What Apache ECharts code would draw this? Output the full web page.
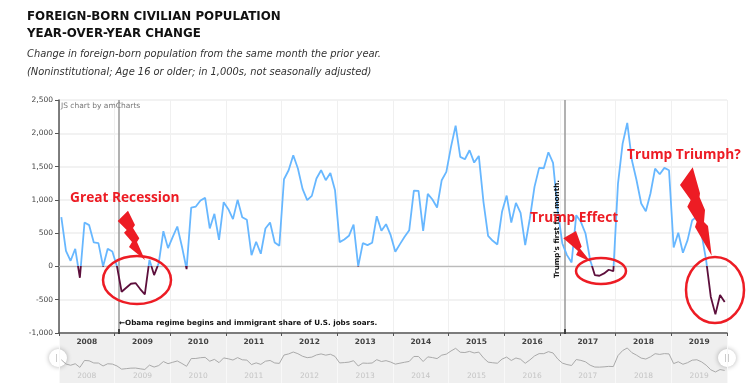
<!DOCTYPE html>
<html><head><meta charset="utf-8">
<style>html,body{margin:0;padding:0;background:#fff}#c{width:750px;height:392px}</style>
<script src="https://cdn.jsdelivr.net/npm/echarts@6/dist/echarts.min.js"></script>
</head><body><div id="c"></div>
<script>
const years = ['2008','2009','2010','2011','2012','2013','2014','2015','2016','2017','2018','2019'];
const y2008 = [740,235,85,265,-170,660,620,360,350,0,265,225];
const y2009 = [0,-380,-320,-260,-250,-340,-420,100,-130,50,530,275];
const y2010 = [440,600,300,-40,885,900,990,1030,570,790,400,965];
const y2011 = [860,710,1000,740,700,170,370,190,570,660,360,310];
const y2012 = [1310,1445,1670,1470,1165,995,1060,1320,1445,1295,1405,1145];
const y2013 = [365,405,460,630,0,350,320,355,755,535,635,470];
const y2014 = [220,335,445,545,1140,1135,535,1090,1005,885,1295,1420];
const y2015 = [1795,2115,1645,1610,1745,1560,1660,970,460,385,330,820];
const y2016 = [1065,660,955,805,320,720,1195,1480,1475,1715,1555,845];
const y2017 = [345,170,60,770,670,495,95,-130,-140,-105,-50,-70];
const y2018 = [1245,1845,2155,1595,1295,945,830,1095,1470,1385,1480,1445];
const y2019 = [285,505,205,395,695,745,495,95,-455,-720,-430,-535];
const values = [].concat(y2008,y2009,y2010,y2011,y2012,y2013,y2014,y2015,y2016,y2017,y2018,y2019);
const points = values.map((v,i)=>[i+0.5,v]);
const obamaMonth = 12.9, trumpMonth = 109.05;

const RED = '#ed1c24', FONT = '"DejaVu Sans",sans-serif';
const bolt = pts => ({type:'polygon',z:30,shape:{points:pts},style:{fill:RED}});
const ring = (cx,cy,rx,ry) => ({type:'ellipse',z:30,shape:{cx,cy,rx,ry},style:{fill:'none',stroke:RED,lineWidth:2.5}});
const redText = (x,y,text) => ({type:'text',z:31,x,y,style:{text,fill:RED,font:'bold 13.7px "Open Sans",sans-serif',textVerticalAlign:'middle'}});
const plain = (x,y,text,font,fill) => ({type:'text',z:20,x,y,style:{text,font,fill:fill||'#111',textVerticalAlign:'middle'}});
const handle = cx => ({type:'group',z:40,children:[
  {type:'circle',shape:{cx,cy:358,r:9},style:{fill:'#fff',shadowBlur:5,shadowColor:'rgba(0,0,0,.3)'}},
  {type:'line',shape:{x1:cx-1.5,y1:354,x2:cx-1.5,y2:362},style:{stroke:'#ccc',lineWidth:1}},
  {type:'line',shape:{x1:cx+1.5,y1:354,x2:cx+1.5,y2:362},style:{stroke:'#ccc',lineWidth:1}}]});

const chart = echarts.init(document.getElementById('c'),null,{renderer:'canvas'});
chart.setOption({
  animation:false,
  backgroundColor:'#fff',
  grid:[
    {left:59,right:23,top:100,height:233,containLabel:false},
    {left:59,right:23,top:334,height:49,show:true,backgroundColor:'#efefef',borderWidth:0}
  ],
  xAxis:[
    {type:'value',gridIndex:0,min:0,max:144,interval:12,show:false},
    {type:'category',gridIndex:0,data:years,position:'bottom',boundaryGap:true,
      axisLine:{onZero:false,lineStyle:{color:'#555',width:1.5}},
      axisTick:{show:true,length:3,lineStyle:{color:'#555'}},
      axisLabel:{show:true,fontFamily:FONT,fontSize:7.5,fontWeight:'bold',color:'#444',margin:5},
      splitLine:{show:true,lineStyle:{color:'#f0f0f0',width:1}}},
    {type:'value',gridIndex:1,min:0,max:144,interval:12,show:false},
    {type:'category',gridIndex:1,data:years,position:'bottom',boundaryGap:true,
      axisLine:{show:false},axisTick:{show:false},
      axisLabel:{show:true,inside:true,fontFamily:FONT,fontSize:7.5,color:'#c4c4c4',margin:3},
      splitLine:{show:true,lineStyle:{color:'#f8f8f8',width:1}}}
  ],
  yAxis:[
    {type:'value',gridIndex:0,min:-1000,max:2500,interval:500,
      axisLine:{show:true,onZero:false,lineStyle:{color:'#555',width:1.5}},
      axisTick:{show:true,length:4,lineStyle:{color:'#555'}},
      axisLabel:{fontFamily:FONT,fontSize:7.5,color:'#444',margin:6,
        formatter:v=>v.toLocaleString('en-US')},
      splitLine:{show:true,lineStyle:{color:'#eee',width:1.5}}},
    {type:'value',gridIndex:1,min:-2040,max:3830,show:false,splitLine:{show:false}}
  ],
  visualMap:[{show:false,type:'piecewise',seriesIndex:0,dimension:1,
    pieces:[{min:-100000,max:0,color:'#5d0f3c'},{min:0,max:100000,color:'#67b7ff'}]}],
  series:[
    {type:'line',xAxisIndex:0,yAxisIndex:0,data:points,showSymbol:false,z:5,
      lineStyle:{width:1.8},
      markLine:{silent:true,symbol:'none',label:{show:false},animation:false,
        lineStyle:{color:'#999',width:1.5,type:'solid'},
        data:[{xAxis:obamaMonth},{xAxis:trumpMonth}]}},
    {type:'line',xAxisIndex:2,yAxisIndex:1,data:points,showSymbol:false,z:5,
      lineStyle:{width:1,color:'#aaa'}},
    {type:'line',xAxisIndex:0,yAxisIndex:0,data:[[0,0],[144,0]],showSymbol:false,z:2,silent:true,
      lineStyle:{width:1.2,color:'#bbb'}}
  ],
  graphic:[
    plain(27,17,'FOREIGN-BORN CIVILIAN POPULATION','bold 11.85px '+FONT),
    plain(27,34,'YEAR-OVER-YEAR CHANGE','bold 11.85px '+FONT),
    plain(27,54,'Change in foreign-born population from the same month the prior year.','italic 9.9px '+FONT,'#333'),
    plain(27,72,'(Noninstitutional; Age 16 or older; in 1,000s, not seasonally adjusted)','italic 9.9px '+FONT,'#333'),
    plain(61,106,'JS chart by amCharts','7.5px '+FONT,'#777'),
    plain(119,323,'\u2190Obama regime begins and immigrant share of U.S. jobs soars.','bold 7.2px '+FONT),
    {type:'text',z:20,x:557,y:278,rotation:Math.PI/2,style:{text:"Trump's first full month.",font:'bold 7.2px '+FONT,fill:'#111',textVerticalAlign:'middle'}},
    {type:'line',z:6,shape:{x1:119,y1:329,x2:119,y2:334},style:{stroke:'#222',lineWidth:1.5}},
    {type:'line',z:6,shape:{x1:565,y1:329,x2:565,y2:334},style:{stroke:'#222',lineWidth:1.5}},
    bolt([[117.7,221],[128,210.7],[135,225],[133,228],[139.3,238.3],[137,242],[145,260],[129,247],[132,242],[124,232.7],[126.7,230]]),
    bolt([[563.3,238.3],[576,231],[581.7,246.7],[580,248.5],[590.7,261.7],[576,255],[578,251],[570,244]]),
    bolt([[692.7,167.3],[680,185],[690.7,200],[687.3,206.7],[696.7,221.7],[695,227],[711.7,255.7],[708,226],[704,222],[705,210],[699.5,197],[700,193.3]]),
    ring(137,280,34,24),
    ring(601,271,25,13),
    ring(715,290,29,33),
    redText(70,198,'Great Recession'),
    redText(530,218,'Trump Effect'),
    redText(627,155,'Trump Triumph?'),
    handle(58),
    handle(727)
  ]
});
</script></body></html>
